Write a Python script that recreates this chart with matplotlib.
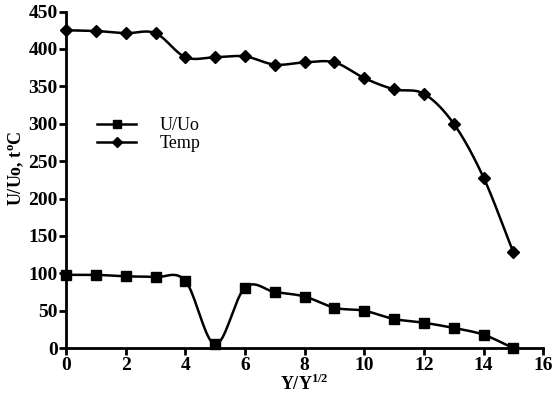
import numpy as np
import matplotlib.pyplot as plt

x = list(range(16))
u_uo = [98, 98, 96, 95, 90, 5, 81, 75, 69, 54, 50, 39, 34, 27, 18, 0]
temp = [425, 424, 421, 421, 389, 389, 390, 379, 382, 382, 361, 346, 340, 300, 228, 128]

plt.rcParams['font.family'] = ['Liberation Serif', 'DejaVu Serif']
plt.rcParams['font.weight'] = 'bold'
plt.rcParams['mathtext.fontset'] = 'custom'
plt.rcParams['mathtext.rm'] = 'Liberation Serif:bold'
plt.rcParams['mathtext.bf'] = 'Liberation Serif:bold'


def smooth(xs, ys, n=20):
    # Catmull-Rom curve through the points, like a smoothed line in a spreadsheet chart
    xs = np.asarray(xs, float)
    ys = np.asarray(ys, float)
    px = np.concatenate([[2 * xs[0] - xs[1]], xs, [2 * xs[-1] - xs[-2]]])
    py = np.concatenate([[2 * ys[0] - ys[1]], ys, [2 * ys[-1] - ys[-2]]])
    outx, outy = [], []
    t = np.linspace(0, 1, n, endpoint=False)
    for i in range(1, len(px) - 2):
        for p, out in ((px, outx), (py, outy)):
            p0, p1, p2, p3 = p[i - 1], p[i], p[i + 1], p[i + 2]
            out.extend(0.5 * ((2 * p1) + (-p0 + p2) * t
                              + (2 * p0 - 5 * p1 + 4 * p2 - p3) * t ** 2
                              + (-p0 + 3 * p1 - 3 * p2 + p3) * t ** 3))
    outx.append(xs[-1])
    outy.append(ys[-1])
    return np.array(outx), np.array(outy)


fig = plt.figure(figsize=(5.6, 3.97), dpi=100)
ax = fig.add_axes([0.118, 0.123, 0.852, 0.848])

sx, sy = smooth(x, u_uo)
ax.plot(sx, sy, color='black', lw=1.8, clip_on=False)
ax.plot(x, u_uo, 's', color='black', ms=7, clip_on=False, zorder=3)
sx, sy = smooth(x, temp)
ax.plot(sx, sy, color='black', lw=1.8, clip_on=False)
ax.plot(x, temp, 'D', color='black', ms=6, clip_on=False, zorder=3)

# legend entries drawn as proxies
h1, = ax.plot([], [], 's-', color='black', ms=5.5, lw=1.8, label='U/Uo')
h2, = ax.plot([], [], 'D-', color='black', ms=5, lw=1.8, label='Temp')
ax.legend(handles=[h1, h2], loc='upper left', bbox_to_anchor=(0.03, 0.735),
          frameon=False, handlelength=2.2, handletextpad=1.3,
          labelspacing=0.05, prop={'size': 13, 'weight': 'normal'})

ax.set_xlim(0, 16)
ax.set_ylim(0, 450)
ax.set_xticks(range(0, 17, 2))
ax.set_yticks(range(0, 451, 50))
for s in ('top', 'right'):
    ax.spines[s].set_visible(False)
for s in ('left', 'bottom'):
    ax.spines[s].set_linewidth(2)
ax.tick_params(width=2, length=5, labelsize=14, pad=1)
ax.set_xlabel('Y/Y$^{\\mathrm{1/2}}$', fontsize=13, fontweight='bold', labelpad=0)
ax.set_ylabel('U/Uo, t$^{\\mathrm{o}}$C', fontsize=13, fontweight='bold')
ax.yaxis.set_label_coords(-0.085, 0.535)

fig.savefig('out.png', dpi=100)
